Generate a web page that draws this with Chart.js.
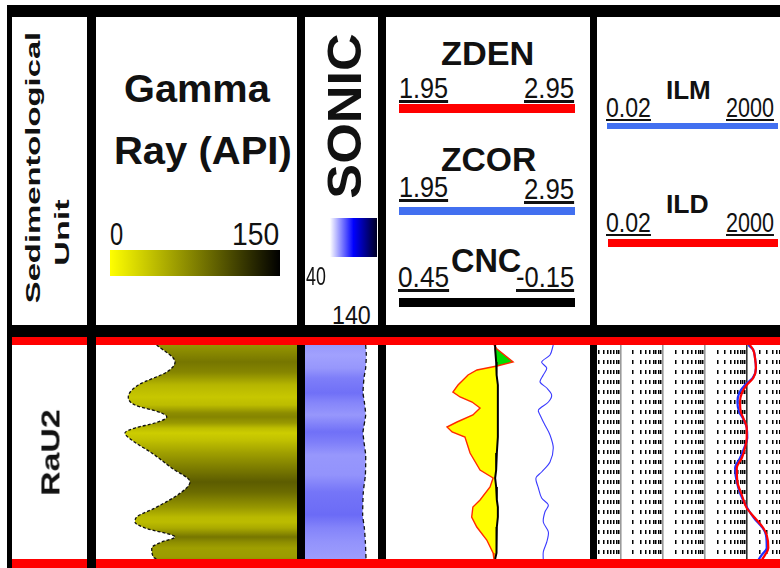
<!DOCTYPE html>
<html>
<head>
<meta charset="utf-8">
<title>Well log – unit RaU2</title>
<script src="https://cdn.jsdelivr.net/npm/chart.js@4.4.1/dist/chart.umd.min.js"></script>
<style>
  html, body { margin: 0; padding: 0; background: #fff; overflow: hidden; }
  #panel { position: relative; width: 780px; height: 568px; overflow: hidden; background: #fff;
           font-family: "Liberation Sans", Arial, Helvetica, sans-serif; color: #111; }
  .rule { position: absolute; background: #000; z-index: 2; }
  .key { position: absolute; }
  .lbl { position: absolute; white-space: nowrap; line-height: 1; z-index: 4; }
  .track { position: absolute; top: 337px; height: 231px; z-index: 1; }
  .track canvas { display: block; }
</style>
</head>
<body>
<div id="panel"></div>
<script>
// ---------- depth frame (m below the top of the unit) ----------
const DEPTH_MIN = -0.8;
const DEPTH_MAX = 22.3;

// ---------- sedimentological units ----------
const UNIT_NAMES  = ['RaU2'];
const UNIT_TOP    = [0.0];
const UNIT_BOTTOM = [21.4];

// ---------- gamma ray (API) ----------
const GR_MIN = 0, GR_MAX = 150;
const GR_DEPTH = [0.0, 1.7, 2.7, 4.0, 5.2, 6.0, 6.8, 7.2, 7.8, 8.3, 8.8, 9.5, 10.8, 12.3, 13.7, 14.7,
                  16.3, 17.2, 17.7, 18.3, 19.2, 19.7, 20.3, 21.2, 21.7];
const GR = [45.3, 59.0, 52.8, 31.6, 24.1, 29.1, 49.0, 52.8, 44.0, 29.1, 21.6, 26.6, 41.6, 56.5, 70.1, 64.0,
            44.0, 30.4, 29.1, 36.6, 59.0, 49.0, 41.6, 42.8, 51.5];

// ---------- sonic (us/ft) ----------
const SONIC_MIN = 40, SONIC_MAX = 140;
const SONIC_DEPTH = [0.0, 1.0, 2.3, 3.3, 4.8, 5.7, 7.0, 8.7, 9.7, 11.0, 13.0, 14.7, 17.0, 18.3, 19.7, 21.4];
const SONIC = [56.9, 56.0, 56.9, 59.2, 60.5, 58.7, 56.9, 60.5, 59.2, 56.9, 57.3, 60.1, 61.0, 58.7, 57.3, 56.4];

// ---------- density / neutron ----------
const DEN_MIN = 1.95, DEN_MAX = 2.95;
const NEU_LEFT = 0.45, NEU_RIGHT = -0.15;
const DEN_DEPTH = [0.0, 0.4, 1.7, 2.1, 2.5, 3.0, 4.0, 4.7, 5.2, 5.7, 6.3, 7.0, 7.7, 8.2, 8.7, 9.2, 10.8,
                   12.5, 13.3, 14.2, 15.5, 16.2, 17.2, 18.2, 19.5, 20.8, 21.4];
const ZDEN = [2.479, 2.494, 2.573, 2.494, 2.396, 2.352, 2.303, 2.278, 2.313, 2.372, 2.411, 2.376, 2.298,
              2.249, 2.274, 2.337, 2.362, 2.411, 2.475, 2.460, 2.411, 2.376, 2.370, 2.395, 2.444, 2.475, 2.479];
const CNC  = [0.129, 0.129, 0.126, 0.126, 0.124, 0.124, 0.121, 0.121, 0.121, 0.121, 0.121, 0.121, 0.121,
              0.121, 0.121, 0.121, 0.124, 0.126, 0.129, 0.126, 0.124, 0.121, 0.121, 0.124, 0.124, 0.126, 0.129];
const ZCOR_DEPTH = [0.0, 1.0, 1.7, 2.3, 3.0, 3.7, 4.3, 5.0, 5.7, 6.5, 7.0, 8.0, 9.0, 10.3, 11.7, 12.7,
                    13.3, 14.3, 15.3, 16.0, 16.7, 17.7, 18.7, 19.7, 20.7, 21.5];
const ZCOR = [2.770, 2.754, 2.713, 2.738, 2.721, 2.705, 2.738, 2.762, 2.746, 2.697, 2.705, 2.729, 2.754,
              2.770, 2.754, 2.713, 2.685, 2.697, 2.713, 2.746, 2.729, 2.721, 2.746, 2.738, 2.721, 2.721];

// ---------- resistivity (ohm.m) ----------
const RES_MIN = 0.02, RES_MAX = 2000;
const RES_DECADES = [0.01, 0.1, 1, 10, 100, 1000];
const RES_DEPTH = [0.0, 0.5, 1.3, 2.3, 3.3, 4.0, 4.8, 5.7, 6.7, 7.3, 8.3, 9.3, 10.3, 11.3, 12.3, 13.7,
                   15.0, 16.3, 17.3, 18.3, 19.0, 20.3, 21.0, 21.5];
const ILD = [117, 140, 154, 162, 140, 98, 75, 68, 71, 81, 98, 98, 89, 75, 57, 59, 75, 98, 154, 242, 292, 318, 266, 222];
const ILM = [107, 140, 154, 162, 136, 89, 65, 59, 65, 79, 98, 101, 85, 68, 52, 57, 71, 101, 146, 234, 280, 292, 222, 184];

// ---------- colours ----------
const GR_SHADE_SPAN = 110;               // API value at which the GR shading reaches black
const SONIC_SHADE_LO = 55, SONIC_SHADE_HI = 62;
const SAND_FILL = '#ffff00';
const GAS_FILL = '#00dd00';
const UNIT_LINE = '#ff0000';

const panel = document.getElementById('panel');

// ---------- frame, keys and header text ----------
function rule(x, y, w, h, z) {
  const d = document.createElement('div');
  d.className = 'rule';
  Object.assign(d.style, { left: x + 'px', top: y + 'px', width: w + 'px', height: h + 'px' });
  if (z) d.style.zIndex = z;
  panel.appendChild(d);
}
function key(x, y, w, h, bg) {
  const d = document.createElement('div');
  d.className = 'key';
  Object.assign(d.style, { left: x + 'px', top: y + 'px', width: w + 'px', height: h + 'px', background: bg });
  panel.appendChild(d);
}
function label(text, o) {
  const el = document.createElement('div');
  el.className = 'lbl';
  el.textContent = text;
  el.style.fontSize = o.size + 'px';
  el.style.fontWeight = o.bold ? '700' : '400';
  if (o.under) el.style.textDecoration = 'underline';
  panel.appendChild(el);
  const w = el.getBoundingClientRect().width;
  const pad = 0.07 * o.size;
  const k = (o.len + pad) / w;
  if (o.rot) {
    el.style.left = (o.cx - w / 2) + 'px';
    el.style.top = (o.cy - o.size / 2) + 'px';
    el.style.transformOrigin = '50% 50%';
    el.style.transform = 'rotate(-90deg) scaleX(' + k + ')';
  } else {
    el.style.left = (o.x - (pad / 2) * k) + 'px';
    el.style.top = (o.base - 0.8465 * o.size) + 'px';
    el.style.transformOrigin = '0 0';
    el.style.transform = 'scaleX(' + k + ')';
  }
  return el;
}

// outer frame and track separators
rule(7, 5, 773, 12);
rule(7, 5, 5, 563, 3);
rule(7, 325, 773, 12);
rule(87, 5, 9, 563, 3);
[[297, 8], [378, 8], [590, 7]].forEach(([x, w]) => {
  rule(x, 5, w, 332);
  rule(x, 345, w, 214);
});

// colour keys
key(110, 250, 170, 26, 'linear-gradient(to right, #ffff00 0%, #808000 50%, #000000 100%)');
key(330, 218, 47, 39, 'linear-gradient(to right, #ffffff 0%, #0000ff 50%, #000022 100%)');
key(399, 104, 176, 9, '#ff0000');
key(399, 207, 176, 8, '#4270f0');
key(399, 298, 176, 9, '#000000');
key(607, 123, 171, 6, '#4270f0');
key(608, 239, 170, 8, '#ff0000');

// header captions
label('Sedimentological', { rot: true, cx: 33, cy: 167, len: 270, size: 21, bold: true });
label('Unit', { rot: true, cx: 61.5, cy: 232, len: 65, size: 21, bold: true });
label('Gamma', { x: 125, base: 102, len: 143, size: 39, bold: true });
label('Ray (API)', { x: 115, base: 164, len: 175, size: 39, bold: true });
label('0', { x: 111, base: 245, len: 11, size: 31 });
label('150', { x: 233, base: 245, len: 45, size: 31 });
label('SONIC', { rot: true, cx: 345, cy: 116, len: 162, size: 48, bold: true });
label('40', { x: 307, base: 285, len: 18, size: 26 });
label('140', { x: 333, base: 324, len: 37, size: 26 });
label('ZDEN', { x: 442, base: 65, len: 91, size: 33, bold: true });
label('1.95', { x: 400, base: 98, len: 47, size: 30, under: true });
label('2.95', { x: 525, base: 98, len: 48, size: 30, under: true });
label('ZCOR', { x: 442, base: 171, len: 93, size: 33, bold: true });
label('1.95', { x: 400, base: 197, len: 47, size: 30, under: true });
label('2.95', { x: 525, base: 199, len: 48, size: 30, under: true });
label('CNC', { x: 452, base: 272, len: 68, size: 33, bold: true });
label('0.45', { x: 399, base: 287, len: 49, size: 30, under: true });
label('-0.15', { x: 517, base: 287, len: 56, size: 30, under: true });
label('ILM', { x: 667, base: 99, len: 43, size: 25, bold: true });
label('0.02', { x: 607, base: 118, len: 43, size: 28, under: true });
label('2000', { x: 727, base: 118, len: 46, size: 28, under: true });
label('ILD', { x: 667, base: 213, len: 41, size: 25, bold: true });
label('0.02', { x: 607, base: 233, len: 43, size: 28, under: true });
label('2000', { x: 727, base: 233, len: 46, size: 28, under: true });

// ---------- chart helpers ----------
const unitBounds = {
  id: 'unitBounds',
  afterDraw(chart) {
    const y = chart.scales.y, ctx = chart.ctx;
    ctx.save();
    ctx.fillStyle = UNIT_LINE;
    UNIT_TOP.forEach((top, i) => {
      const a = y.getPixelForValue(top);
      const b = y.getPixelForValue(UNIT_BOTTOM[i]);
      ctx.fillRect(0, a - 8, chart.width, 8);
      ctx.fillRect(0, b, chart.width, 9);
    });
    ctx.restore();
  }
};

function track(left, width) {
  const box = document.createElement('div');
  box.className = 'track';
  box.style.left = left + 'px';
  box.style.width = width + 'px';
  const cv = document.createElement('canvas');
  cv.width = width; cv.height = 231;
  cv.style.width = width + 'px'; cv.style.height = '231px';
  box.appendChild(cv);
  panel.appendChild(box);
  return cv;
}

function trackOptions(padRight, xScales) {
  return {
    responsive: false, animation: false, devicePixelRatio: 1, events: [],
    indexAxis: 'y',
    layout: { padding: { left: 0, right: padRight, top: 0, bottom: 0 } },
    plugins: { legend: { display: false }, tooltip: { enabled: false } },
    elements: { point: { radius: 0, hoverRadius: 0 } },
    scales: Object.assign({
      y: { type: 'linear', min: DEPTH_MIN, max: DEPTH_MAX, reverse: true, display: false }
    }, xScales)
  };
}

const points = (depths, values) => depths.map((d, i) => ({ x: values[i], y: d }));

function depthGradient(chart, depths, colours) {
  const a = chart.chartArea, y = chart.scales.y;
  if (!a || !y) return colours[0];
  const g = chart.ctx.createLinearGradient(0, a.top, 0, a.bottom);
  depths.forEach((d, i) => {
    const t = (y.getPixelForValue(d) - a.top) / (a.bottom - a.top);
    g.addColorStop(Math.min(1, Math.max(0, t)), colours[i]);
  });
  return g;
}

function grShade(v) {
  const s = Math.round(255 * Math.max(0, 1 - v / GR_SHADE_SPAN));
  return 'rgb(' + s + ',' + s + ',0)';
}
function sonicShade(v) {
  const t = Math.min(1, Math.max(0, (v - SONIC_SHADE_LO) / (SONIC_SHADE_HI - SONIC_SHADE_LO)));
  const s = Math.round(172 - 76 * t);
  return 'rgb(' + s + ',' + s + ',' + Math.round(255 - 10 * t) + ')';
}

// yellow where density plots left of neutron, green where it crosses to the right
function crossoverFill(chart) {
  const a = chart.chartArea, y = chart.scales.y, xd = chart.scales.xDen, xn = chart.scales.xNeu;
  if (!a || !y || !xd || !xn) return SAND_FILL;
  const g = chart.ctx.createLinearGradient(0, a.top, 0, a.bottom);
  const pos = d => Math.min(1, Math.max(0, (y.getPixelForValue(d) - a.top) / (a.bottom - a.top)));
  const side = DEN_DEPTH.map((d, i) => xd.getPixelForValue(ZDEN[i]) - xn.getPixelForValue(CNC[i]));
  const col = s => (s > 0 ? GAS_FILL : SAND_FILL);
  g.addColorStop(0, col(side[0]));
  for (let i = 1; i < side.length; i++) {
    if ((side[i - 1] > 0) !== (side[i] > 0)) {
      const t = side[i - 1] / (side[i - 1] - side[i]);
      const p = pos(DEN_DEPTH[i - 1] + t * (DEN_DEPTH[i] - DEN_DEPTH[i - 1]));
      g.addColorStop(p, col(side[i - 1]));
      g.addColorStop(p, col(side[i]));
    }
  }
  g.addColorStop(1, col(side[side.length - 1]));
  return g;
}

const isDecade = v => Math.abs(Math.log10(v) - Math.round(Math.log10(v))) < 1e-9;
const RES_GRID = [];
RES_DECADES.forEach(dec => {
  for (let m = 1; m <= 9; m++) {
    const v = +(m * dec).toPrecision(3);
    if (v > RES_MIN && v < RES_MAX) RES_GRID.push(v);
  }
});

// ---------- track 1: sedimentological unit ----------
const unitChart = new Chart(track(12, 75), {
  type: 'line',
  data: { datasets: [] },
  options: trackOptions(0, { x: { type: 'linear', min: 0, max: 1, display: false } }),
  plugins: [unitBounds]
});
UNIT_NAMES.forEach((name, i) => {
  const mid = unitChart.scales.y.getPixelForValue((UNIT_TOP[i] + UNIT_BOTTOM[i]) / 2);
  label(name, { rot: true, cx: 51, cy: 337 + mid, len: 85, size: 25, bold: true });
});

// ---------- track 2: gamma ray ----------
new Chart(track(96, 209), {
  type: 'line',
  data: { datasets: [{
    data: points(GR_DEPTH, GR),
    borderColor: '#111', borderWidth: 1.3, borderDash: [3, 2],
    cubicInterpolationMode: 'monotone',
    fill: { value: GR_MAX },
    backgroundColor: c => depthGradient(c.chart, GR_DEPTH, GR.map(grShade))
  }] },
  options: trackOptions(8, { x: { type: 'linear', min: GR_MIN, max: GR_MAX, display: false } }),
  plugins: [unitBounds]
});

// ---------- track 3: sonic ----------
new Chart(track(305, 81), {
  type: 'line',
  data: { datasets: [{
    data: points(SONIC_DEPTH, SONIC),
    borderColor: '#111', borderWidth: 1.3, borderDash: [4, 3],
    tension: 0.2,
    fill: { value: SONIC_MAX },
    backgroundColor: c => depthGradient(c.chart, SONIC_DEPTH, SONIC.map(sonicShade))
  }] },
  options: trackOptions(8, { x: { type: 'linear', min: SONIC_MIN, max: SONIC_MAX, reverse: true, display: false } }),
  plugins: [unitBounds]
});

// ---------- track 4: density / neutron ----------
new Chart(track(386, 211), {
  type: 'line',
  data: { datasets: [
    { label: 'CNC', data: points(DEN_DEPTH, CNC), xAxisID: 'xNeu',
      borderColor: '#000', borderWidth: 2, tension: 0, fill: false },
    { label: 'ZDEN', data: points(DEN_DEPTH, ZDEN), xAxisID: 'xDen',
      borderColor: '#ff2a00', borderWidth: 1.4, tension: 0,
      fill: 0, backgroundColor: c => crossoverFill(c.chart) },
    { label: 'ZCOR', data: points(ZCOR_DEPTH, ZCOR), xAxisID: 'xDen',
      borderColor: '#3a3aff', borderWidth: 1.1, tension: 0.3, fill: false }
  ] },
  options: trackOptions(7, {
    xDen: { type: 'linear', axis: 'x', min: DEN_MIN, max: DEN_MAX, display: false },
    xNeu: { type: 'linear', axis: 'x', min: NEU_RIGHT, max: NEU_LEFT, reverse: true, display: false }
  }),
  plugins: [unitBounds]
});

// ---------- track 5: resistivity ----------
new Chart(track(591, 215), {
  type: 'line',
  data: { datasets: [
    { label: 'ILD', data: points(RES_DEPTH, ILD), borderColor: '#ff0000', borderWidth: 2.2,
      cubicInterpolationMode: 'monotone', fill: false },
    { label: 'ILM', data: points(RES_DEPTH, ILM), borderColor: '#1f2fff', borderWidth: 2.2,
      cubicInterpolationMode: 'monotone', fill: false }
  ] },
  options: trackOptions(4, {
    x: {
      type: 'logarithmic', min: RES_MIN, max: RES_MAX, position: 'top',
      afterBuildTicks: s => { s.ticks = RES_GRID.map(v => ({ value: v })); },
      ticks: { display: false },
      grid: {
        drawTicks: false,
        color: c => (c.tick && isDecade(c.tick.value) ? (c.tick.value >= 100 ? '#333' : '#9a9a9a') : '#000'),
        lineWidth: c => (c.tick && isDecade(c.tick.value) ? 1.6 : 1.5)
      },
      border: {
        display: false,
        dash: c => (c.tick && !isDecade(c.tick.value) ? [4, 6] : []),
        dashOffset: 7
      }
    }
  }),
  plugins: [unitBounds]
});
</script>
</body>
</html>
